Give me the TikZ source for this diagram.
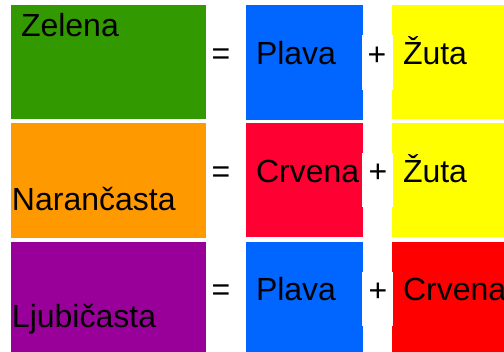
\documentclass[tikz,border=0pt]{standalone}
\usepackage{fontspec}
\setmainfont{Liberation Sans}
\definecolor{cgreen}{HTML}{339900}
\definecolor{cblue}{HTML}{0066FF}
\definecolor{cyellow}{HTML}{FFFF00}
\definecolor{corange}{HTML}{FF9900}
\definecolor{cred}{HTML}{FF0033}
\definecolor{cpurple}{HTML}{990099}
\definecolor{cpure}{HTML}{FF0000}
\tikzset{
  swatch/.style={inner sep=0pt, outer sep=0pt, draw=none},
  lbl/.style={inner sep=0pt, outer sep=0pt, anchor=base west, font=\fontsize{32}{32}\selectfont, text=black},
  op/.style={inner sep=0pt, outer sep=0pt, anchor=center, font=\fontsize{32}{32}\selectfont, text=black},
}
\begin{document}
\begin{tikzpicture}[x=1pt,y=-1pt]
\useasboundingbox (0,0) rectangle (504,352);
% row 1
\node[swatch, fill=cgreen, minimum width=195pt, minimum height=114pt] (g) at (108.5,62) {};
\node[swatch, fill=cblue, minimum width=117pt, minimum height=115pt] (b1) at (304.5,62.5) {};
\node[swatch, fill=cyellow, minimum width=112pt, minimum height=114pt] (y1) at (448,62) {};
\node[swatch, fill=white, minimum width=31pt, minimum height=55pt] (w1) at (377.5,62.5) {};
\node[lbl] (tg) at (21,37) {Zelena};
\node[op] (eq1) at (221,57) {=};
\node[lbl] (tb1) at (256,65) {Plava};
\node[op] (pl1) at (377,56) {+};
\node[lbl] (ty1) at (403,65) {Žuta};
% row 2
\node[swatch, fill=corange, minimum width=195pt, minimum height=115pt] (o) at (108.5,180.5) {};
\node[swatch, fill=cred, minimum width=117pt, minimum height=114pt] (r2) at (304.5,180) {};
\node[swatch, fill=cyellow, minimum width=112pt, minimum height=114pt] (y2) at (448,180) {};
\node[swatch, fill=white, minimum width=31pt, minimum height=54pt] (w2) at (377.5,180) {};
\node[lbl] (to) at (12,211) {Narančasta};
\node[op] (eq2) at (221,175) {=};
\node[lbl] (tr2) at (256,183) {Crvena};
\node[op] (pl2) at (378,173) {+};
\node[lbl] (ty2) at (403,183) {Žuta};
% row 3
\node[swatch, fill=cpurple, minimum width=195pt, minimum height=110pt] (p) at (108.5,297) {};
\node[swatch, fill=cblue, minimum width=117pt, minimum height=110pt] (b3) at (304.5,297) {};
\node[swatch, fill=cpure, minimum width=112pt, minimum height=110pt] (r3) at (448,297) {};
\node[swatch, fill=white, minimum width=31pt, minimum height=54pt] (w3) at (377.5,299) {};
\node[lbl] (tp) at (12,328) {Ljubičasta};
\node[op] (eq3) at (221,293) {=};
\node[lbl] (tb3) at (256,301) {Plava};
\node[op] (pl3) at (378,292) {+};
\node[lbl] (tr3) at (403,301) {Crvena};
\end{tikzpicture}
\end{document}
